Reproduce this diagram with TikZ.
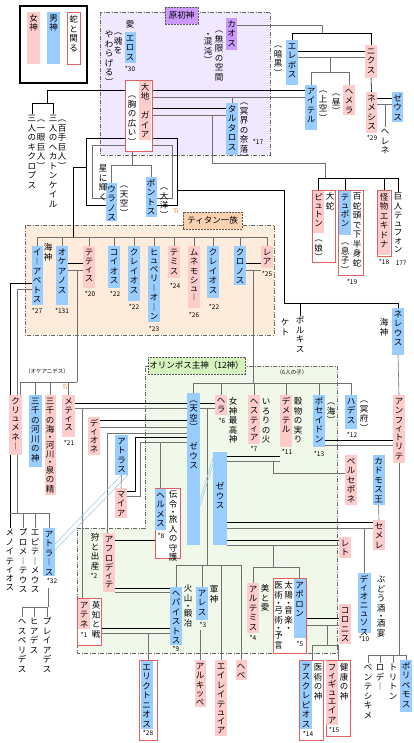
\documentclass[tikz,border=0pt]{standalone}
\usepackage{fontspec}
\setmainfont{Noto Sans CJK JP}
\definecolor{pkc}{HTML}{FFCCCC}
\definecolor{blc}{HTML}{99CCFF}
\definecolor{vic}{HTML}{CC99FF}
\definecolor{lavc}{HTML}{F0E8FF}
\definecolor{pchc}{HTML}{FDEBDC}
\definecolor{pchlab}{HTML}{FAD2B0}
\definecolor{grnc}{HTML}{F0F8EA}
\definecolor{grnlab}{HTML}{D6F2BE}
\definecolor{rdc}{HTML}{E06060}
\definecolor{lbc}{HTML}{9CC4EC}
\definecolor{ogc}{HTML}{E8741E}
\definecolor{lnc}{HTML}{707070}
\def\vtstop{\vtstop}
\def\vtmap#1{\ifx#1（︵\else\ifx#1）︶\else\ifx#1ー︱\else#1\fi\fi\fi}
\def\vtsmall#1{\ifx#1ィ1\else\ifx#1ュ1\else\ifx#1ャ1\else\ifx#1ョ1\else\ifx#1ッ1\else\ifx#1ァ1\else\ifx#1ェ1\else\ifx#1ォ1\else\ifx#1ゥ1\else0\fi\fi\fi\fi\fi\fi\fi\fi\fi}
\def\vtone#1{\ifx#1・\hbox to 10pt{\hss\vrule height 4.8pt depth 1.2pt width 0pt\lower1.3pt\hbox{・}\hss}\else\ifnum\vtsmall{#1}=1 \hbox to 10pt{\hss\vrule height 6.2pt depth 1.3pt width 0pt #1\hss}\else\hbox to 10pt{\hss\vrule height 7.6pt depth 1.9pt width 0pt\vtmap{#1}\hss}\fi\fi}
\def\vtloop#1{\ifx#1\vtstop\else\vtone{#1}\expandafter\vtloop\fi}
\newcommand\vt[1]{\vbox{\offinterlineskip\vtloop#1\vtstop}}
\newcommand\vth[3][1.5]{\vbox to #2pt{\offinterlineskip\kern#1pt\vtloop#3\vtstop\vss}}
\pgfdeclarelayer{regions}
\pgfdeclarelayer{lines}
\pgfsetlayers{regions,lines,main}
\begin{document}
\begin{tikzpicture}[x=1pt,y=-1pt,
 every node/.style={inner sep=0pt,outer sep=0pt,font=\fontsize{8.5}{9.5}\selectfont},
 pb/.style={fill=pkc,anchor=north,minimum width=12pt},
 bb/.style={fill=blc,anchor=north,minimum width=12pt},
 vb/.style={fill=vic,anchor=north,minimum width=12pt},
 tx/.style={anchor=north},
 nm/.style={anchor=north,font=\fontsize{6.5}{7}\selectfont},
 sm/.style={anchor=north,font=\fontsize{5.5}{6}\selectfont},
 rbox/.style={draw=rdc,fill=white,line width=0.8pt,anchor=north west},
 blk/.style={draw=black,line width=0.6pt},
 gry/.style={draw=lnc,line width=0.6pt},
 lbl/.style={draw=lbc,line width=0.5pt},
 region/.style={draw=gray!80!black,line width=0.6pt,dash pattern=on 4pt off 1.5pt on 1pt off 1.5pt},
 tag/.style={draw=gray!70!black,line width=0.5pt,dash pattern=on 2pt off 1pt,anchor=north west,font=\fontsize{8.5}{9}\selectfont},
 ti/.style={anchor=north,text=ogc,font=\fontsize{6}{6}\selectfont}]
\useasboundingbox (0,0) rectangle (413,743);
\begin{pgfonlayer}{regions}
\fill[white] (0,0) rectangle (413,743);
\filldraw[fill=lavc,region] (100,12) rectangle (270,155);
\filldraw[fill=pchc,region] (25,225) rectangle (274,335);
\filldraw[fill=grnc,region] (145,366) -- (337,366) -- (337,653) -- (77,653) -- (77,528) -- (145,528) -- cycle;
\end{pgfonlayer}
% legend
\node[draw,line width=1.3pt,anchor=north west,minimum width=67pt,minimum height=77pt] (legend) at (20,6) {};
\node[pb,minimum width=13pt] (lgf) at (33.5,12) {\vth{52}{女神}};
\node[bb,minimum width=13pt] (lgm) at (53.5,12) {\vth{52}{男神}};
\node[draw=rdc,line width=0.8pt,anchor=north,minimum width=13pt,fill=white] (lgs) at (73.5,12) {\vth[3]{52}{蛇と関る}};
% primordial
\node[tag,fill=vic,minimum width=33pt,minimum height=17pt] (primlab) at (165,7) {原初神};
\node[tx] (ai) at (130,20) {愛};
\node[bb,minimum width=11pt] (eros) at (130,32) {\vth{31}{エロス}};
\node[nm] (n30) at (130,66) {*30};
\node[tx] (erosa) at (118,27) {\vt{（魂を}};
\node[tx] (erosb) at (109,30) {\vt{やわらげる）}};
\node[rbox,minimum width=27pt,minimum height=71pt] (gaiabox) at (125,80) {};
\node[pb] (gaia) at (145,81) {\vth{59}{大地~ガイア}};
\node[tx] (gaiaa) at (132,90) {\vt{（胸の広い）}};
\node[vb,minimum width=11pt] (chaos) at (231.5,18) {\vth{32}{カオス}};
\node[tx] (chaosa) at (219,25) {\vt{（無限の空間}};
\node[tx] (chaosb) at (208,31) {\vt{・混沌）}};
\node[bb] (erebos) at (292,40) {\vth{45}{エレボス}};
\node[tx] (erebosa) at (278,40) {\vt{（暗黒）}};
\node[pb] (nyx) at (371,45) {\vth{33}{ニクス}};
\node[bb] (aither) at (311,85) {\vth{45}{アイテル}};
\node[tx] (aithera) at (323,85) {\vt{（上空）}};
\node[pb] (hemera) at (349,85) {\vth{30}{ヘメラ}};
\node[tx] (hemeraa) at (336,88) {\vt{（昼）}};
\node[pb,minimum width=11pt] (nemesis) at (371.5,92) {\vth{41}{ネメシス}};
\node[nm] (n29) at (372,135) {*29};
\node[bb,minimum width=11pt] (zeust) at (397.5,92) {\vth{30}{ゼウス}};
\node[tx] (helene) at (385,127) {\vt{ヘレネ}};
\node[bb] (tartaros) at (232,103) {\vth{52}{タルタロス}};
\node[tx] (tartarosa) at (244,97) {\vt{（冥界の奈落）}};
\node[nm] (n17) at (258,139) {*17};
% Tartaros children
\node[rbox,minimum width=23pt,minimum height=72pt] (pythonbox) at (312,190) {};
\node[pb,minimum width=11pt] (python) at (318.5,191) {\vth{42}{ピュトン}};
\node[tx] (pythona) at (318.5,234) {\vt{（娘）}};
\node[tx] (pythonb) at (330,192) {\vt{大蛇}};
\node[rbox,minimum width=25pt,minimum height=85pt] (typhonbox) at (338,190) {};
\node[bb] (typhon) at (345,191) {\vth{44}{テュポン}};
\node[tx] (typhona) at (345,237) {\vt{（息子）}};
\node[tx] (typhonb) at (357,192) {\vt{百蛇頭で下半身蛇}};
\node[nm] (n19) at (352,279) {*19};
\node[rbox,minimum width=14pt,minimum height=66pt] (echidnabox) at (377,190) {};
\node[pb] (echidna) at (384,191) {\vth{64}{怪物エキドナ}};
\node[nm] (n18) at (384,259) {*18};
\node[tx] (typhon2) at (398,192) {\vt{巨人テュフォン}};
\node[nm] (n17q) at (401,261) {17?};
% Cyclops
\node[tx] (cyc) at (32,114) {\vt{三人のキクロプス}};
\node[tx] (cyca) at (41,114) {\vt{（一眼巨人）}};
\node[tx] (hek) at (53,114) {\vt{三人のヘカトンケイル}};
\node[tx] (heka) at (62,114) {\vt{（百手巨人）}};
% Uranos Pontos
\node[bb,minimum width=11pt] (uranos) at (111.5,183) {\vth{38}{ウラノス}};
\node[tx] (uranosa) at (124,180) {\vt{（天空）}};
\node[tx] (uranosb) at (103,164) {\vt{星に輝く}};
\node[bb,minimum width=11pt] (pontos) at (151,177) {\vth{40}{ポントス}};
\node[tx] (pontosa) at (164,182) {\vt{（大洋）}};
% Titans
\node[tag,fill=pchlab,minimum width=59pt,minimum height=17pt] (titanlab) at (183,212) {ティタン一族};
\node[ti] (ti1) at (176,209) {Ti};
\node[bb,minimum width=11pt] (iapetos) at (37,246) {\vth{59}{イーアペトス}};
\node[nm] (n27) at (37,308) {*27};
\node[tx] (kaishin) at (48,243) {\vt{海神}};
\node[bb] (okeanos) at (62,246) {\vth{59}{オケアノス}};
\node[nm] (n131) at (62,308) {*131};
\node[pb] (tethys) at (89,246) {\vth{42}{テティス}};
\node[nm] (n20) at (90,291) {*20};
\node[bb] (koios) at (114,246) {\vth{42}{コイオス}};
\node[nm] (n22a) at (115,291) {*22};
\node[bb] (kreios) at (134,246) {\vth{55}{クレイオス}};
\node[nm] (n22b) at (134,304) {*22};
\node[bb] (hyperion) at (154,246) {\vth{76}{ヒュペリーオーン}};
\node[nm] (n23) at (154,326) {*23};
\node[pb] (themis) at (174,246) {\vth{32}{テミス}};
\node[nm] (n24) at (175,283) {*24};
\node[pb] (mnemosyne) at (194,246) {\vth{62}{ムネモシュー}};
\node[nm] (n26) at (194,312) {*26};
\node[bb] (kreios2) at (213,246) {\vth{52}{クレイオス}};
\node[nm] (n22c) at (214,304) {*22};
\node[bb] (kronos) at (240,246) {\vth{39}{クロノス}};
\node[pb] (rhea) at (267,246) {\vth{22}{レア}};
\node[nm] (n25) at (267,271) {*25};
% Pontos descendants
\node[bb] (nereus) at (398,308) {\vth{47}{ネレウス}};
\node[tx] (kaishin2) at (384,318) {\vt{海神}};
\node[tx] (phorkys) at (300,316) {\vt{ポルキス}};
\node[tx] (keto) at (285,318) {\vt{ケト}};
% Olympus
\node[tag,fill=grnlab,minimum width=97pt,minimum height=17pt] (olylab) at (148,357) {オリンポス主神（12神）};
\node[sm] (oceanids) at (47,369) {（オケアニデス）};
\node[sm] (six) at (292,370) {（6人の子）};
\node[pb,minimum width=13pt] (klymene) at (15.5,395) {\vth{60}{クリュメネー}};
\node[bb,minimum width=13pt] (rivers) at (35.5,395) {\vth{72}{三千の河川の神}};
\node[pb,minimum width=11pt] (springs) at (50,395) {\vth{100}{三千の海・河川・泉の精}};
\node[pb,minimum width=13pt] (metis) at (68.5,395) {\vth{42}{メティス}};
\node[ti] (ti2) at (65,385) {Ti};
\node[nm] (n21) at (69,440) {*21};
\node[pb] (dione) at (94,417) {\vth{38}{ディオネ}};
\node[bb,minimum width=13pt] (atlas2) at (121.5,435) {\vth{40}{アトラス}};
\node[pb] (maia) at (121,488) {\vth{30}{マイア}};
\node[bb,minimum width=13pt] (zeus) at (193.5,393) {\vth{152}{（天空）~ゼウス}};
\node[pb] (hera) at (221,395) {\vth[0.5]{20}{ヘラ}};
\node[nm] (n6) at (222,418) {*6};
\node[tx] (megami) at (233,397) {\vt{女神最高神}};
\node[pb] (hestia) at (254,395) {\vth{49}{ヘスティア}};
\node[nm] (n7) at (254,446) {*7};
\node[tx] (iro) at (266,397) {\vt{いろりの火}};
\node[pb] (demeter) at (286,395) {\vth{52}{デメテル}};
\node[nm] (n11) at (287,449) {*11};
\node[tx] (kokumotsu) at (298,397) {\vt{穀物の実り}};
\node[bb] (poseidon) at (319,395) {\vth{52}{ポセイドン}};
\node[nm] (n13) at (319,451) {*13};
\node[tx] (umi) at (331,397) {\vt{（海）}};
\node[bb] (hades) at (351,395) {\vth{34}{ハデス}};
\node[nm] (n12) at (352,432) {*12};
\node[tx] (meifu) at (364,395) {\vt{（冥府）}};
\node[pb] (amphitrite) at (399,395) {\vth{68}{アンフィトリテ}};
\node[bb,minimum width=14pt] (zeus2) at (220,452) {\vth[30]{93}{ゼウス}};
\node[pb] (persephone) at (351,455) {\vth{50}{ペルセポネ}};
\node[bb] (kadmos) at (378.5,455) {\vth{50}{カドモス王}};
\node[pb] (semele) at (379,520) {\vth{30}{セメレ}};
\node[bb,minimum width=13pt] (dionysos) at (364,573) {\vth{60}{ディオニュソス}};
\node[nm] (n10) at (364,636) {*10};
\node[tx] (budou) at (381,575) {\vt{ぶどう酒・酒宴}};
\node[pb] (leto) at (345,537) {\vth{21}{レト}};
\node[pb] (artemis) at (253,583) {\vth{50}{アルテミス}};
\node[nm] (n4) at (253,635) {*4};
\node[tx] (bitoai) at (265,584) {\vt{美と愛}};
\node[rbox,minimum width=33pt,minimum height=75pt] (apollobox) at (273,578) {};
\node[bb] (apollo) at (299.5,579) {\vth{59}{アポロン}};
\node[nm] (n5) at (300,641) {*5};
\node[tx] (taiyou) at (288.5,581) {\vt{太陽・音楽・}};
\node[tx] (ijutsu) at (278.5,581) {\vt{医術・弓術・予言}};
\node[pb] (koronis) at (345,604) {\vth{40}{コロニス}};
\node[rbox,minimum width=24pt,minimum height=80pt] (asklepiosbox) at (299,660) {};
\node[bb] (asklepios) at (306,661) {\vth{68}{アスクレピオス}};
\node[nm] (n14) at (308,731) {*14};
\node[tx] (ijutsunokami) at (318,663) {\vt{医術の神}};
\node[rbox,minimum width=24pt,minimum height=76pt] (hygieiabox) at (326,660) {};
\node[pb] (hygieia) at (332,661) {\vth{64}{フィギュエイア}};
\node[nm] (n15) at (334,727) {*15};
\node[tx] (kenkou) at (344,663) {\vt{健康の神}};
\node[bb] (polyphemos) at (406,660) {\vth{52}{ポリペモス}};
\node[tx] (benth) at (368,663) {\vt{ベンテシキメ}};
\node[tx] (rhode) at (380,663) {\vt{ロデー}};
\node[tx] (triton) at (393,663) {\vt{トリトン}};
\node[rbox,minimum width=25pt,minimum height=70pt] (hermesbox) at (155,488) {};
\node[bb,minimum width=11pt] (hermes) at (160.5,489) {\vth{41}{ヘルメス}};
\node[nm] (n8) at (161,533) {*8};
\node[tx] (denrei) at (173,490) {\vt{伝令・旅人の守護}};
\node[pb] (aphrodite) at (109,533) {\vth{59}{アフロディテ}};
\node[tx] (kari) at (95,533) {\vt{狩と出産}};
\node[nm] (n2) at (94,573) {*2};
\node[bb] (hephaistos) at (176,587) {\vth{58}{ヘパイストス}};
\node[nm] (n9) at (176,646) {*9};
\node[tx] (kazan) at (188,584) {\vt{火山・鍛冶}};
\node[bb] (ares) at (202,587) {\vth{33}{アレス}};
\node[nm] (n3) at (203,622) {*3};
\node[tx] (gunshin) at (214,585) {\vt{軍神}};
\node[pb] (eileithyia) at (221,660) {\vth{76}{エイレイテュイア}};
\node[pb,minimum width=11pt] (hebe) at (241,660) {\vth{20}{ヘベ}};
\node[pb,minimum width=11pt] (alkippe) at (200,660) {\vth{47}{アルキッペ}};
\node[rbox,minimum width=24pt,minimum height=47pt] (athenabox) at (77,598) {};
\node[pb] (athena) at (84,599) {\vth{30}{アテネ}};
\node[nm] (n1) at (84,632) {*1};
\node[tx] (eichi) at (96,601) {\vt{英知と戦}};
\node[rbox,minimum width=18pt,minimum height=80pt] (erichbox) at (139,660) {};
\node[bb] (erich) at (146.5,661) {\vth{68}{エリクトニオス}};
\node[nm] (n28) at (148,730) {*28};
% Iapetos children
\node[tx] (menoitios) at (10,528) {\vt{メノイティオス}};
\node[tx] (prometheus) at (23,528) {\vt{プロメーテウス}};
\node[tx] (epimetheus) at (35,528) {\vt{エピテーメウス}};
\node[bb] (atlasl) at (49,528) {\vth{48}{アトラース}};
\node[nm] (n32) at (52,578) {*32};
\node[tx] (hesperides) at (22,617) {\vt{ヘスペリデス}};
\node[tx] (hyades) at (34,617) {\vt{ヒアデス}};
\node[tx] (pleiades) at (47,617) {\vt{プレイアデス}};
% ---------------- connectors
\begin{pgfonlayer}{lines}
\draw[gry] (chaos.east|-0,25) -- (322,25) -- (322,33);
\draw[blk] (erebos.north) -- (erebos.north|-0,33) -- (nyx.north|-0,33) -- (nyx.north);
\draw[blk] (erebos.east|-0,51) -- (nyx.west|-0,51);
\draw[gry] (erebos.east|-0,57) -- (nyx.west|-0,57);
\draw[gry] (330,57) -- (330,72);
\draw[gry] (aither.north) -- (aither.north|-0,72) -- (hemera.north|-0,72) -- (hemera.north);
\draw[blk] (nyx.south) -- (nemesis.north);
\draw[blk] (nemesis.east|-0,98) -- (zeust.west|-0,98);
\draw[gry] (nemesis.east|-0,104) -- (zeust.west|-0,104);
\draw[gry] (helene.north|-0,104) -- (helene.north);
\draw[blk] (gaiabox.east|-0,90) -- (aither.west|-0,90);
\draw[gry] (gaiabox.east|-0,97) -- (aither.west|-0,97);
\draw[gry] (tartaros.north|-0,97) -- (tartaros.north);
\draw[blk] (gaiabox.east|-0,108) -- (tartaros.west|-0,108);
\draw[gry] (gaiabox.east|-0,115) -- (tartaros.west|-0,115);
\draw[gry] (212,115) -- (212,163) -- (325,163) -- (325,178);
\draw[blk] (python.north|-0,178) -- (typhon2.north|-0,178);
\draw[blk] (python.north|-0,178) -- (pythonbox.north-|python.north);
\draw[blk] (typhon.north|-0,178) -- (typhonbox.north-|typhon.north);
\draw[blk] (echidna.north|-0,178) -- (echidnabox.north-|echidna.north);
\draw[blk] (typhon2.north|-0,178) -- (typhon2.north);
\draw[blk] (gaiabox.west|-0,90) -- (47,90) -- (47,103);
\draw[blk] (cyc.north) -- (cyc.north|-0,103) -- (hek.north|-0,103) -- (hek.north);
\draw[blk] (gaiabox.west|-0,138) -- (86,138) -- (86,205) -- (uranos.west|-0,205);
\draw[gry] (gaiabox.west|-0,145) -- (92,145) -- (92,198) -- (uranos.west|-0,198);
\draw[blk] (86,167) -- (73,167) -- (73,237);
\draw[gry] (132,0|-gaiabox.south) -- (132,165);
\draw[gry] (uranos.north) -- (uranos.north|-0,165) -- (pontos.north|-0,165) -- (pontos.north);
\draw[blk] (gaiabox.east|-0,138) -- (177,138) -- (177,205) -- (pontos.east|-0,205);
\draw[gry] (gaiabox.east|-0,145) -- (172,145) -- (172,198) -- (pontos.east|-0,198);
\draw[blk] (177,190) -- (284,190) -- (284,303) -- (nereus.north|-0,303) -- (nereus.north);
\draw[blk] (phorkys.north|-0,303) -- (phorkys.north);
% titans
\draw[gry] (iapetos.north|-0,237) -- (rhea.north|-0,237);
\foreach \t in {iapetos,okeanos,tethys,koios,kreios,hyperion,themis,mnemosyne,kreios2,kronos,rhea}
  \draw[gry] (\t.north|-0,237) -- (\t.north);
\draw[blk] (okeanos.east|-0,263) -- (tethys.west|-0,263);
\draw[gry] (okeanos.east|-0,270) -- (tethys.west|-0,270);
\draw[gry] (77,270) -- (77,382);
\draw[blk] (kronos.east|-0,263) -- (rhea.west|-0,263);
\draw[gry] (kronos.east|-0,270) -- (rhea.west|-0,270);
\draw[gry] (253,270) -- (253,383);
\draw[blk] (iapetos.west|-0,283) -- (10,283) -- (menoitios.north);
\draw[gry] (iapetos.west|-0,289) -- (17,289) -- (17,513);
\draw[gry] (menoitios.north|-0,513) -- (atlasl.north|-0,513);
\foreach \t in {prometheus,epimetheus,atlasl}
  \draw[gry] (\t.north|-0,513) -- (\t.north);
\draw[gry] (20,382) -- (77,382);
\draw[gry] (20,382) -- (20,0|-klymene.north);
\foreach \t in {rivers,springs,metis}
  \draw[gry] (\t.north|-0,382) -- (\t.north);
% Zeus unions
\draw[blk] (metis.east|-0,403) -- (zeus.west|-0,403);
\draw[gry] (metis.east|-0,408) -- (zeus.west|-0,408);
\draw[gry] (82,408) -- (athenabox.north-|82,0);
\draw[blk] (dione.east|-0,420) -- (zeus.west|-0,420);
\draw[gry] (dione.east|-0,427) -- (zeus.west|-0,427);
\draw[gry] (107,433) -- (zeus.west|-0,433);
\draw[gry] (107,433) -- (aphrodite.north-|107,0);
\draw[blk] (zeus.west|-0,437) -- (135,437) -- (135,491) -- (maia.east|-0,491);
\draw[gry] (zeus.west|-0,442) -- (140,442) -- (140,496) -- (maia.east|-0,496);
\draw[gry] (hermes.north|-0,442) -- (hermesbox.north-|hermes.north);
\draw[gry] (atlas2.south) -- (maia.north);
\draw[blk] (zeus.east|-0,403) -- (hera.west|-0,403);
\draw[gry] (zeus.east|-0,408) -- (hera.west|-0,408);
\draw[gry] (207,408) -- (207,565);
\draw[gry] (hephaistos.north|-0,565) -- (hebe.north|-0,565);
\foreach \t in {hephaistos,ares,eileithyia,hebe}
  \draw[gry] (\t.north|-0,565) -- (\t.north);
\draw[gry] (zeus.north|-0,383) -- (hades.north|-0,383);
\foreach \t in {zeus,hera,hestia,demeter,poseidon,hades}
  \draw[gry] (\t.north|-0,383) -- (\t.north);
\draw[blk] (zeus2.east|-0,456) -- (demeter.west|-0,456);
\draw[gry] (zeus2.east|-0,461) -- (demeter.west|-0,461);
\draw[gry] (273,461) -- (273,473) -- (persephone.west|-0,473);
\draw[blk] (zeus2.east|-0,522) -- (semele.west|-0,522);
\draw[gry] (zeus2.east|-0,528) -- (semele.west|-0,528);
\draw[gry] (dionysos.north|-0,528) -- (dionysos.north);
\draw[gry] (kadmos.south) -- (semele.north);
\draw[blk] (zeus2.east|-0,540) -- (leto.west|-0,540);
\draw[gry] (zeus2.east|-0,545) -- (leto.west|-0,545);
\draw[gry] (273,545) -- (273,567);
\draw[gry] (artemis.north) -- (artemis.north|-0,567) -- (apollo.north|-0,567) -- (apollobox.north-|apollo.north);
\draw[blk] (apollobox.east|-0,618) -- (koronis.west|-0,618);
\draw[gry] (apollobox.east|-0,625) -- (koronis.west|-0,625);
\draw[gry] (327,625) -- (327,645);
\draw[gry] (312,660) -- (312,645) -- (338,645) -- (338,660);
\draw[blk] (poseidon.east|-0,440) -- (amphitrite.west|-0,440);
\draw[gry] (poseidon.east|-0,445) -- (amphitrite.west|-0,445);
\draw[gry] (nereus.south) -- (amphitrite.north);
\draw[gry] (amphitrite.south) -- (amphitrite.south|-0,655);
\draw[gry] (benth.north|-0,655) -- (polyphemos.north|-0,655);
\foreach \t in {benth,rhode,triton,polyphemos}
  \draw[gry] (\t.north|-0,655) -- (\t.north);
\draw[blk] (aphrodite.east|-0,540) -- (hermesbox.west|-0,540);
\draw[blk] (aphrodite.east|-0,588) -- (hephaistos.west|-0,588);
\draw[gry] (aphrodite.east|-0,592) -- (hephaistos.west|-0,592);
\draw[blk] (athenabox.east|-0,628) -- (hephaistos.west|-0,628);
\draw[gry] (athenabox.east|-0,633) -- (hephaistos.west|-0,633);
\draw[gry] (erichbox.north|-0,633) -- (erichbox.north);
\draw[gry] (alkippe.north|-0,630) -- (alkippe.north);
\draw[gry] (48,588) -- (48,607);
\draw[gry] (hesperides.north|-0,607) -- (48,607);
\foreach \t in {hesperides,hyades,pleiades}
  \draw[gry] (\t.north|-0,607) -- (\t.north);
% identity links
\draw[lbl] (atlasl.east|-0,544) -- (atlas2.south);
\draw[lbl] (atlasl.east|-0,550) -- (atlas2.south east);
\draw[lbl] (zeus.east|-0,500) -- (zeus2.west|-0,458);
\draw[lbl] (zeus.east|-0,506) -- (zeus2.west|-0,464);
\end{pgfonlayer}
\end{tikzpicture}
\end{document}
